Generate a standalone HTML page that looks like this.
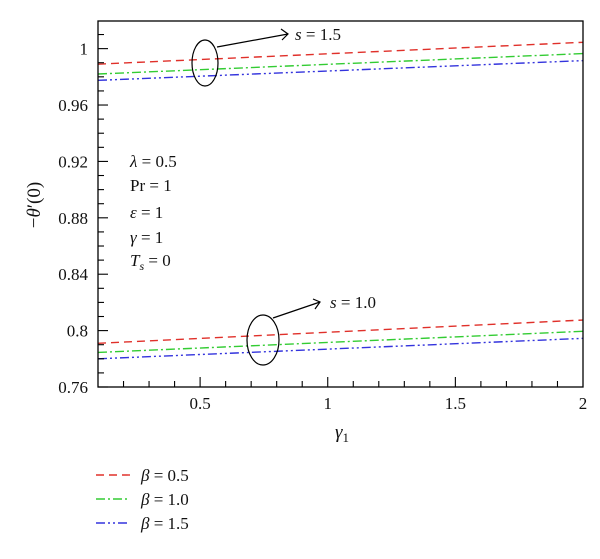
<!DOCTYPE html>
<html><head><meta charset="utf-8"><style>
body{margin:0;background:#fff;}
svg, svg text, svg tspan{font-family:"Liberation Serif","DejaVu Serif",serif !important;}
svg text{fill:#111;}
</style></head><body>
<svg id="chart" width="600" height="554" viewBox="0 0 600 554" xmlns="http://www.w3.org/2000/svg" font-family="'Liberation Serif', serif">
<g id="grid"></g>
<g id="series"></g>
<rect x="98" y="21" width="485" height="366" fill="none" stroke="#000" stroke-width="1.3"/>
<g id="ticks"></g>
<text x="335" y="438" font-size="19" font-style="italic">γ<tspan font-size="13" font-style="normal" dy="4">1</tspan></text>
<text transform="translate(40,205) rotate(-90)" font-size="19" text-anchor="middle">−<tspan font-style="italic">θ</tspan>′(0)</text>
<g font-size="17">
<text x="130" y="167"><tspan font-style="italic">λ</tspan> = 0.5</text>
<text x="130" y="191">Pr = 1</text>
<text x="130" y="218"><tspan font-style="italic">ε</tspan> = 1</text>
<text x="130" y="243"><tspan font-style="italic">γ</tspan> = 1</text>
<text x="130" y="266"><tspan font-style="italic">T</tspan><tspan font-size="12" font-style="italic" dy="4">s</tspan><tspan dy="-4"> = 0</tspan></text>
</g>
<g stroke="#000" fill="none" stroke-width="1.2">
<ellipse cx="205" cy="63" rx="13" ry="23"/>
<line x1="217" y1="47" x2="288" y2="34"/>
<polyline points="281,29 288,34 282,40"/>
</g>
<text x="295" y="40" font-size="17"><tspan font-style="italic">s</tspan> = 1.5</text>
<g stroke="#000" fill="none" stroke-width="1.2">
<ellipse cx="263" cy="340" rx="16" ry="25"/>
<line x1="273" y1="318" x2="320" y2="302"/>
<polyline points="313,299 320,302 315,309"/>
</g>
<text x="330" y="308" font-size="17"><tspan font-style="italic">s</tspan> = 1.0</text>
<g id="legend"></g>
</svg>
<script>
const xTickLabels=["0.5","1","1.5","2"];
const xTickValues=[0.5,1,1.5,2];
const yTickLabels=["0.76","0.8","0.84","0.88","0.92","0.96","1"];
const yTickValues=[0.76,0.8,0.84,0.88,0.92,0.96,1];
const xs=[0.1,2];
const betaLabels=["β = 0.5","β = 1.0","β = 1.5"];
const s15Red=[0.989,1.0045];
const s15Green=[0.982,0.9965];
const s15Blue=[0.9775,0.9915];
const s10Red=[0.791,0.8075];
const s10Green=[0.7845,0.7995];
const s10Blue=[0.7800,0.7945];

const NS="http://www.w3.org/2000/svg";
const X0=98,X1=583,Y0=387,Y1=21,xmin=0.1,xmax=2,ymin=0.76,ymax=1.0196;
function sx(v){return X0+(v-xmin)/(xmax-xmin)*(X1-X0);}
function sy(v){return Y0-(v-ymin)/(ymax-ymin)*(Y0-Y1);}
function mk(t,a,p){const e=document.createElementNS(NS,t);for(const k in a)e.setAttribute(k,a[k]);p.appendChild(e);return e;}
const ticks=document.getElementById('ticks');
for(let i=1;i<=19;i++){const v=i/10;if(v<=xmin+1e-9)continue;const major=Math.abs(v*2-Math.round(v*2))<1e-6;
 const l=mk('line',{x1:sx(v),x2:sx(v),y1:Y0,y2:Y0-(major?10:6),stroke:'#000','stroke-width':1.1},ticks);
 
 }
xTickValues.forEach((v,i)=>{const t=mk('text',{x:sx(v),y:409,'font-size':17,'text-anchor':'middle'},ticks);t.textContent=xTickLabels[i];
 
 });
for(let i=76;i<=101;i++){const v=i/100;const major=(i%4===0);
 const l=mk('line',{x1:X0,x2:X0+(major?10:6),y1:sy(v),y2:sy(v),stroke:'#000','stroke-width':1.1},ticks);
 
 }
yTickValues.forEach((v,i)=>{const t=mk('text',{x:X0-10,y:sy(v)+6,'font-size':17,'text-anchor':'end'},ticks);t.textContent=yTickLabels[i];
 
 });
const styles=[{c:'#e0302a',d:'8,5'},{c:'#33cc33',d:'9,3,2,3'},{c:'#3333dd',d:'9,3,2,3,2,3'}];
const series=[[s15Red,0],[s15Green,1],[s15Blue,2],[s10Red,0],[s10Green,1],[s10Blue,2]];
const sg=document.getElementById('series');
series.forEach(([vals,k],i)=>{const pts=xs.map((x,j)=>sx(x)+','+sy(vals[j])).join(' ');
 const p=mk('polyline',{points:pts,fill:'none',stroke:styles[k].c,'stroke-width':1.4,'stroke-dasharray':styles[k].d},sg);
 
 });
const lg=document.getElementById('legend');
betaLabels.forEach((lab,k)=>{const y=475+k*24;
 const g=mk('g',{},lg);
 
 
 mk('line',{x1:96,x2:130,y1:y,y2:y,stroke:styles[k].c,'stroke-width':1.4,'stroke-dasharray':styles[k].d},g);
 const t=mk('text',{x:141,y:y+6,'font-size':17},g);
 const b=mk('tspan',{'font-style':'italic'},t);b.textContent='β';t.appendChild(document.createTextNode(lab.slice(1)));});
</script>
</body></html>
